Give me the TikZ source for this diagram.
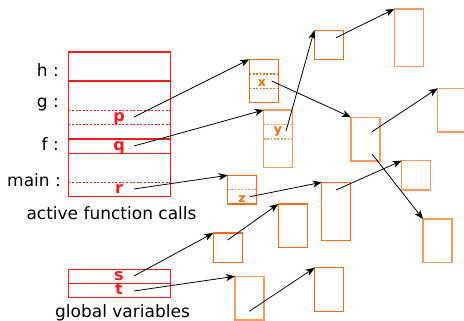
\documentclass[tikz,border=0pt]{standalone}
\usepackage{fontspec}
\setmainfont{DejaVu Sans}
\usetikzlibrary{arrows.meta}
\definecolor{stackred}{HTML}{FF1A1A}
\definecolor{heapor}{HTML}{FF6A10}
\definecolor{heaplt}{HTML}{FF9A5A}
\begin{document}
\begin{tikzpicture}[x=1pt,y=-1pt,
  frame/.style={draw=stackred, line width=1.1pt, inner sep=0pt, outer sep=0pt,
    anchor=north west, minimum width=102pt},
  rdash/.style={draw=stackred, line width=0.8pt, dash pattern=on 2pt off 1.6pt},
  odash/.style={draw=#1, line width=1.1pt, dash pattern=on 1.8pt off 1.6pt},
  obox/.style={draw=#1, line width=1.1pt, inner sep=0pt, outer sep=0pt,
    anchor=north west, minimum width=29pt},
  obox/.default=heapor,
  lbl/.style={font=\fontsize{17}{20}\selectfont, inner sep=0pt, anchor=base east},
  captxt/.style={font=\fontsize{17}{20}\selectfont, inner sep=0pt, anchor=base},
  var/.style={font=\fontsize{16}{18}\bfseries\selectfont, text=stackred, inner sep=0pt, anchor=base},
  ovar/.style={font=\fontsize{12.5}{14}\bfseries\selectfont, text=heapor, inner sep=0pt, anchor=base},
  arr/.style={draw=black, line width=0.8pt, -{Stealth[length=9pt,width=7pt,inset=2.5pt]}}
]
\useasboundingbox (0,0) rectangle (464,321);

% stack frames
\node[frame, minimum height=29pt] (hf) at (68.3,52) {};
\node[frame, minimum height=58pt] (gf) at (68.3,81) {};
\node[frame, minimum height=14.7pt] (ff) at (68.3,139) {};
\node[frame, minimum height=43pt] (mf) at (68.3,153.7) {};
\draw[rdash] (68.3,110.3) -- (170.3,110.3);
\draw[rdash] (68.3,124.3) -- (170.3,124.3);
\draw[rdash] (68.3,182.3) -- (170.3,182.3);

\node[lbl] (hl) at (59,76.7) {h :};
\node[lbl] (gl) at (59,108) {g :};
\node[lbl] (fl) at (59,150.5) {f :};
\node[lbl] (ml) at (61,186) {main :};
\node[captxt] (afc) at (111.5,219) {active function calls};

\node[var] (p) at (119,121.5) {p};
\node[var] (q) at (119,150.2) {q};
\node[var] (r) at (119,193.6) {r};

% globals
\node[frame, minimum height=14.4pt] (sf) at (68.3,269.3) {};
\node[frame, minimum height=14pt] (tf) at (68.3,283.7) {};
\node[var] (s) at (119,280.5) {s};
\node[var] (t) at (119,294.3) {t};
\node[captxt] (gv) at (122.5,317) {global variables};

% heap boxes
\node[obox, minimum height=43.4pt] (X) at (249.3,59.3) {};
\draw[odash=heapor] (249.3,74) -- (278.3,74);
\draw[odash=heapor] (249.3,88.3) -- (278.3,88.3);
\node[ovar] (xl) at (262,86.5) {x};

\node[obox=heaplt, minimum height=57.7pt] (Y) at (263.7,110) {};
\draw[odash=heaplt] (263.7,124.3) -- (293,124.3);
\draw[odash=heaplt] (263.7,139) -- (293,139);
\node[ovar] (yl) at (278,134) {y};

\node[obox, minimum height=28.7pt] (Z) at (227.7,175.3) {};
\draw[odash=heaplt] (227.7,189.7) -- (256.7,189.7);
\node[ovar] (zl) at (242,202.3) {z};

\node[obox, minimum height=29pt] (A) at (314.3,30.3) {};
\node[obox=heaplt, minimum height=57.7pt] (B) at (394.3,9) {};
\node[obox=heaplt, minimum height=43.7pt] (C) at (351,117.3) {};
\node[obox=heaplt, minimum height=43.7pt] (D) at (437.7,88.3) {};
\node[obox=heaplt, minimum height=29.3pt] (E) at (401.7,160.7) {};
\node[obox=heaplt, minimum height=43.3pt] (G) at (423,219) {};
\node[obox, minimum height=58pt] (F) at (321.7,182.3) {};
\node[obox, minimum height=43.7pt] (H) at (278.3,204) {};
\node[obox, minimum height=29.3pt] (I) at (213.3,233) {};
\node[obox=heaplt, minimum height=43.7pt] (J) at (235,276.3) {};
\node[obox, minimum height=43.6pt] (K) at (314.7,267.7) {};

% arrow start points
\coordinate (ps) at (134,117);
\coordinate (qs) at (134,146);
\coordinate (rs) at (134,189);
\coordinate (ss) at (134,276);
\coordinate (ts) at (134,291);
\coordinate (xs) at (271.7,81);
\coordinate (ys) at (286,131);
\coordinate (as) at (336,37.7);
\coordinate (cs1) at (372,131.7);
\coordinate (cs2) at (372,154);
\coordinate (zs) at (250,196.7);
\coordinate (fs) at (336,190);
\coordinate (is) at (227.7,240);
\coordinate (js) at (249.3,311.3);

\draw[arr] (ps) -- (X.north west);
\draw[arr] (qs) -- (Y.north west);
\draw[arr] (rs) -- (Z.north west);
\draw[arr] (ss) -- (I.north west);
\draw[arr] (ts) -- (J.north west);
\draw[arr] (xs) -- (C.north west);
\draw[arr] (ys) -- (A.north west);
\draw[arr] (as) -- (B.north west);
\draw[arr] (cs1) -- (D.north west);
\draw[arr] (cs2) -- (G.north west);
\draw[arr] (zs) -- (F.north west);
\draw[arr] (fs) -- (E.north west);
\draw[arr] (is) -- (H.north west);
\draw[arr] (js) -- (K.north west);
\end{tikzpicture}
\end{document}
